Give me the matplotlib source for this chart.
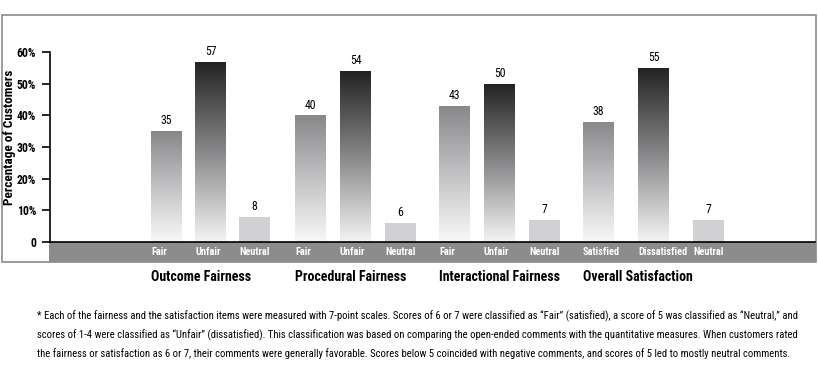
import matplotlib
matplotlib.use("Agg")
import matplotlib.pyplot as plt
import numpy as np
from matplotlib.patches import Rectangle
from matplotlib.colors import LinearSegmentedColormap

plt.rcParams['font.family'] = ['Roboto Condensed', 'DejaVu Sans']

# ---- data ----
groups = ["Outcome Fairness", "Procedural Fairness", "Interactional Fairness", "Overall Satisfaction"]
categories = [["Fair", "Unfair", "Neutral"],
              ["Fair", "Unfair", "Neutral"],
              ["Fair", "Unfair", "Neutral"],
              ["Satisfied", "Dissatisfied", "Neutral"]]
values = [[35, 57, 8],
          [40, 54, 6],
          [43, 50, 7],
          [38, 55, 7]]
yticks = [0, 10, 20, 30, 40, 50, 60]
ytick_labels = ["0", "10%", "20%", "30%", "40%", "50%", "60%"]
footnote = [
    '* Each of the fairness and the satisfaction items were measured with 7-point scales. Scores of 6 or 7 were classified as \u201cFair\u201d (satisfied), a score of 5 was classified as \u201cNeutral,\u201d and',
    'scores of 1-4 were classified as \u201cUnfair\u201d (dissatisfied). This classification was based on comparing the open-ended comments with the quantitative measures. When customers rated',
    'the fairness or satisfaction as 6 or 7, their comments were generally favorable. Scores below 5 coincided with negative comments, and scores of 5 led to mostly neutral comments.',
]

# ---- layout ----
W, H = 818, 372
fig = plt.figure(figsize=(W / 100, H / 100), dpi=100)

bg = fig.add_axes([0, 0, 1, 1])
bg.set_xlim(0, W)
bg.set_ylim(H, 0)
bg.axis("off")

ax_left, ax_right, ax_top, ax_bottom = 50, 815, 52, 242
band_bottom = 262

bg.add_patch(Rectangle((2, 15), 814, band_bottom - 15, fill=False, edgecolor="#8a8a8a", lw=1.2))
bg.add_patch(Rectangle((49, ax_bottom), 816 - 49, band_bottom - ax_bottom, facecolor="#8c8c8e", edgecolor="none"))

ax = fig.add_axes([ax_left / W, 1 - ax_bottom / H, (ax_right - ax_left) / W, (ax_bottom - ax_top) / H])
ax.patch.set_alpha(0)
for s in ["top", "right"]:
    ax.spines[s].set_visible(False)
ax.spines["left"].set_linewidth(1.2)
ax.spines["bottom"].set_linewidth(1.2)
ax.set_xticks([])
ax.set_yticks(yticks)
ax.set_yticklabels(ytick_labels, fontsize=8.5, fontweight="bold")
ax.tick_params(axis="y", length=6, width=1.2, pad=4)
ax.set_ylabel("Percentage of Customers", fontsize=9.5, fontweight="bold")
ax.yaxis.set_label_coords(-34 / (ax_right - ax_left), (ax_bottom - 137) / (ax_bottom - ax_top))

cmaps = [
    LinearSegmentedColormap.from_list("fair", ["#f8f8f8", "#c2c2c4", "#88888a"]),
    LinearSegmentedColormap.from_list("unfair", ["#f4f4f4", "#88888a", "#222222"]),
]
neutral_color = "#d1d1d3"

bar_w = 31
group_start = 101
group_step = 144
inner_step = [44, 45, 45, 55]
grad = np.linspace(0, 1, 256).reshape(-1, 1)

for g, (gname, cats, vals) in enumerate(zip(groups, categories, values)):
    x0 = group_start + g * group_step
    for j, (c, v) in enumerate(zip(cats, vals)):
        x = x0 + j * inner_step[g]
        if j < 2:
            rect = Rectangle((x, 0), bar_w, v, facecolor="none", edgecolor="none")
            ax.add_patch(rect)
            im = ax.imshow(grad, extent=(x, x + bar_w, 0, v), origin="lower",
                           cmap=cmaps[j], aspect="auto", interpolation="bicubic")
            im.set_clip_path(rect)
        else:
            ax.bar(x, v, width=bar_w, align="edge", color=neutral_color)
        ax.text(x + bar_w / 2, v + 1.2, str(v), ha="center", va="bottom", fontsize=8.5)
        bg.text(ax_left + x, 252, c, ha="left", va="center", fontsize=7.5,
                fontweight="bold", color="white")
    bg.text(ax_left + x0, 277, gname, ha="left", va="center", fontsize=10, fontweight="bold")

ax.set_xlim(0, ax_right - ax_left)
ax.set_ylim(0, 60)

for i, line in enumerate(footnote):
    bg.text(37, 316 + i * 19, line, ha="left", va="center", fontsize=7.7)

fig.savefig("out.png", dpi=100)
